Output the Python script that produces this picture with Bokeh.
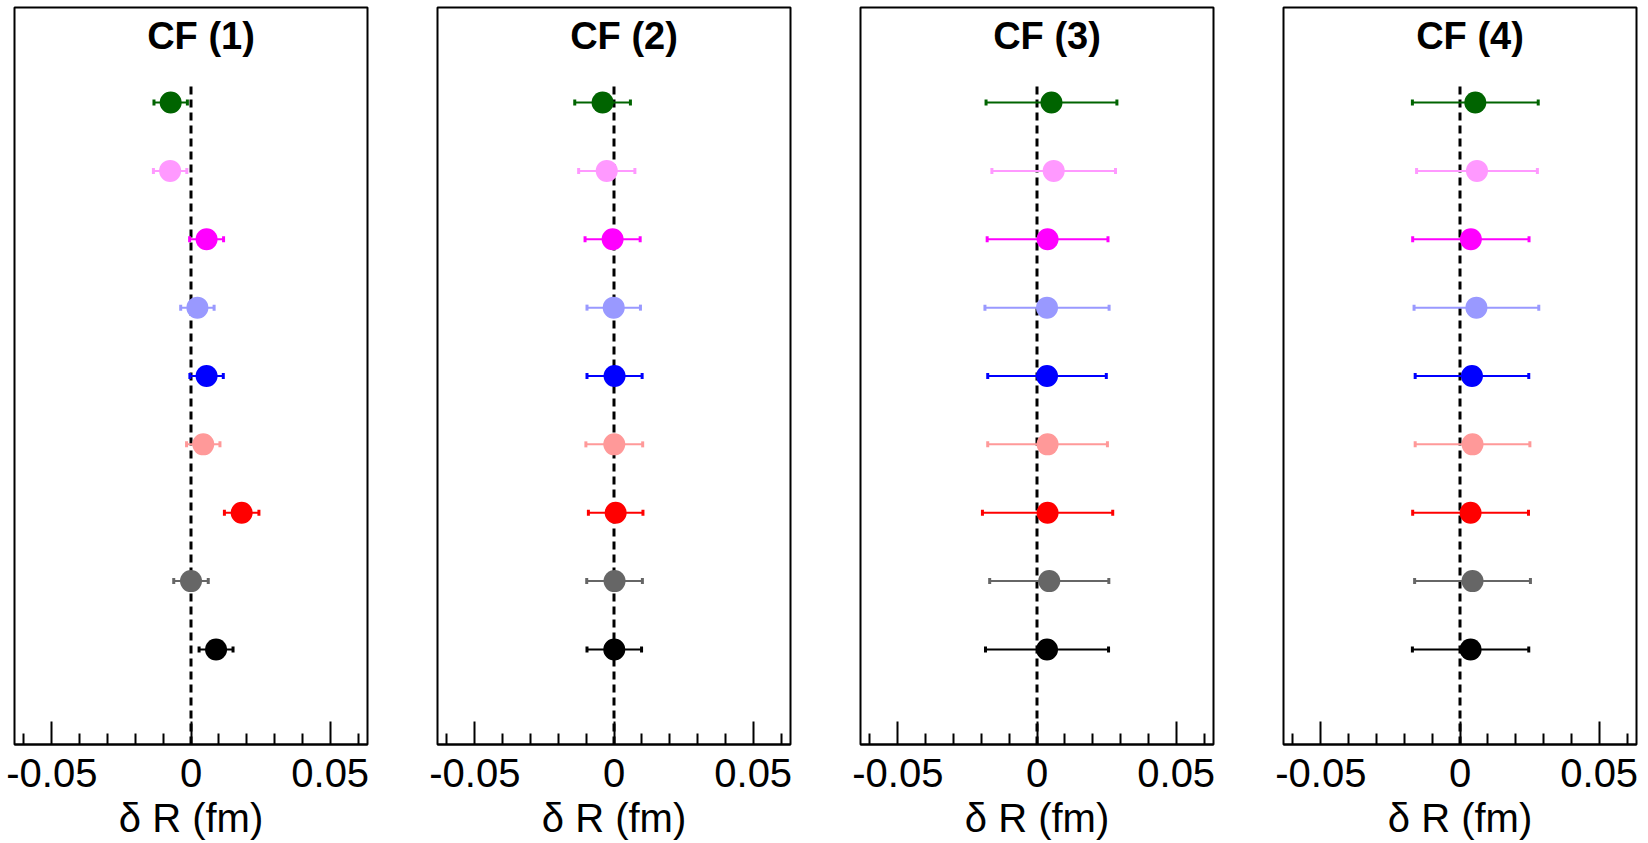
import numpy as np
from bokeh.plotting import figure
from bokeh.layouts import row
from bokeh.models import ColumnDataSource, FixedTicker, CustomJSTickFormatter, Label
from bokeh.embed import file_html
from bokeh.resources import INLINE

# ---- data ----
panel_titles = ["CF (1)", "CF (2)", "CF (3)", "CF (4)"]
row_pos = [9, 8, 7, 6, 5, 4, 3, 2, 1]          # top to bottom
colors = ["#006400", "#FF99FF", "#FF00FF", "#9999FF", "#0000FF",
          "#FF9999", "#FF0000", "#666666", "#000000"]

cf1_val = [-0.0073, -0.0075, 0.0056, 0.0023, 0.0056, 0.0044, 0.0182, 0.0000, 0.0090]
cf1_err = [0.0060, 0.0060, 0.0061, 0.0060, 0.0060, 0.0060, 0.0062, 0.0062, 0.0061]
cf2_val = [-0.0041, -0.0026, -0.0005, -0.0001, 0.0002, 0.0001, 0.0006, 0.0002, 0.0001]
cf2_err = [0.0100, 0.0101, 0.0099, 0.0096, 0.0099, 0.0102, 0.0098, 0.0100, 0.0098]
cf3_val = [0.0052, 0.0060, 0.0038, 0.0036, 0.0036, 0.0038, 0.0038, 0.0044, 0.0036]
cf3_err = [0.0235, 0.0222, 0.0217, 0.0223, 0.0213, 0.0215, 0.0234, 0.0214, 0.0221]
cf4_val = [0.0055, 0.0061, 0.0039, 0.0059, 0.0043, 0.0045, 0.0038, 0.0045, 0.0038]
cf4_err = [0.0226, 0.0217, 0.0209, 0.0224, 0.0204, 0.0206, 0.0208, 0.0208, 0.0209]

major_ticks = [-0.05, 0.0, 0.05]
minor_ticks = [-0.06, -0.04, -0.03, -0.02, -0.01, 0.01, 0.02, 0.03, 0.04, 0.06]
x_label = "δ R (fm)"

x_lim = (-0.0634, 0.0634)
y_lim = (-0.39, 10.39)
ref_x = 0.0
ref_y_top = 9.29
title_y = 9.97

FONT = "Liberation Sans"

values = [cf1_val, cf2_val, cf3_val, cf4_val]
errors = [cf1_err, cf2_err, cf3_err, cf4_err]

figs = []
for i in range(4):
    val = np.array(values[i])
    err = np.array(errors[i])
    src = ColumnDataSource(dict(
        x=val, y=row_pos, lo=val - err, hi=val + err, color=colors,
    ))
    left = 14 if i == 0 else 20
    right = 12 if i == 3 else 50
    p = figure(frame_width=353, frame_height=737,
               x_range=x_lim, y_range=y_lim,
               output_backend="svg", toolbar_location=None,
               min_border_left=left, min_border_right=right,
               min_border_top=7, min_border_bottom=10)
    p.background_fill_color = "white"
    p.border_fill_color = "white"
    p.outline_line_color = "black"
    p.outline_line_width = 2
    p.xgrid.visible = False
    p.ygrid.visible = False
    p.yaxis.visible = False

    ax = p.xaxis[0]
    ax.ticker = FixedTicker(ticks=major_ticks, minor_ticks=minor_ticks)
    ax.formatter = CustomJSTickFormatter(
        code="if (Math.abs(tick) < 1e-9) { return '0'; } return tick.toFixed(2);")
    ax.axis_line_color = "black"
    ax.axis_line_width = 2
    ax.major_tick_in = 23
    ax.major_tick_out = 0
    ax.minor_tick_in = 11
    ax.minor_tick_out = 0
    ax.major_tick_line_width = 2
    ax.minor_tick_line_width = 2
    ax.major_tick_line_color = "black"
    ax.minor_tick_line_color = "black"
    ax.major_label_text_font = FONT
    ax.major_label_text_font_size = "40px"
    ax.major_label_text_color = "black"
    ax.major_label_standoff = 14
    ax.axis_label = x_label
    ax.axis_label_text_font = FONT
    ax.axis_label_text_font_size = "40px"
    ax.axis_label_text_font_style = "normal"
    ax.axis_label_text_color = "black"
    ax.axis_label_standoff = 6

    # reference dashed line at zero
    p.segment(x0=[ref_x], y0=[y_lim[0]], x1=[ref_x], y1=[ref_y_top],
              line_color="black", line_width=3, line_dash="8 5")

    # error bars
    p.segment(x0="lo", y0="y", x1="hi", y1="y", source=src,
              line_color="color", line_width=2)
    p.scatter(x="lo", y="y", source=src, marker="dash", size=6,
              angle=np.pi / 2, line_color="color", line_width=3)
    p.scatter(x="hi", y="y", source=src, marker="dash", size=6,
              angle=np.pi / 2, line_color="color", line_width=3)
    # points
    p.scatter(x="x", y="y", source=src, marker="circle", size=22,
              fill_color="color", line_color="color", line_width=0)

    p.add_layout(Label(x=0, y=title_y, x_offset=10, text=panel_titles[i],
                       text_font=FONT, text_font_style="bold",
                       text_font_size="38px", text_align="center",
                       text_baseline="middle", text_color="black"))
    figs.append(p)

layout = row(*figs, spacing=0)
open("out.html", "w").write(file_html(layout, INLINE))
